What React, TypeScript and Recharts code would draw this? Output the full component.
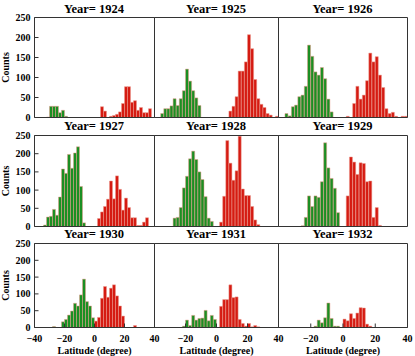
import React from 'react';
import { BarChart, Bar, XAxis, YAxis } from 'recharts';

// bin centres (2-degree bins from -40 to 40)
const latitudeBins = [
  -39, -37, -35, -33, -31, -29, -27, -25, -23, -21, -19, -17, -15, -13, -11, -9, -7, -5, -3, -1,
  1, 3, 5, 7, 9, 11, 13, 15, 17, 19, 21, 23, 25, 27, 29, 31, 33, 35, 37, 39,
];

const years = [1924, 1925, 1926, 1927, 1928, 1929, 1930, 1931, 1932];

// southern hemisphere counts (bins -40..-2) and northern (bins 0..38)
const south1924 = [0,0,0,0,1,28,28,28,12,18,3,0,0,0,0,0,0,0,0,0];
const north1924 = [0,0,27,16,0,3,5,8,14,35,77,77,38,42,18,25,12,12,22,0];
const south1925 = [0,0,10,22,22,29,47,30,47,67,121,91,67,49,30,0,0,0,0,0];
const north1925 = [0,0,0,0,16,28,52,116,116,139,207,172,95,47,33,25,10,6,0,3];
const south1926 = [0,0,10,4,27,31,52,56,78,181,153,114,106,125,97,46,14,0,0,0];
const north1926 = [0,3,0,35,78,46,56,92,161,139,152,106,75,22,10,13,3,0,3,3];
const south1927 = [0,0,0,4,26,28,47,31,81,158,146,198,160,202,219,110,10,0,0,0];
const north1927 = [0,22,40,55,75,125,76,139,102,45,78,52,24,24,3,3,12,24,0,0];
const south1928 = [0,0,0,0,0,0,23,25,52,106,138,186,207,184,150,129,82,23,14,0];
const north1928 = [0,12,83,236,174,127,153,248,103,85,85,55,18,5,0,0,0,0,0,0];
const south1929 = [0,0,0,0,0,0,0,2,25,84,55,84,80,123,230,161,132,105,38,0];
const north1929 = [0,84,191,177,143,175,173,123,125,25,52,3,0,0,0,0,0,0,0,0];
const south1930 = [0,0,0,0,0,0,3,0,0,17,24,37,49,72,64,97,144,77,64,29];
const north1930 = [19,30,87,122,90,117,127,94,64,34,0,0,0,6,0,0,0,0,0,0];
const south1931 = [0,0,0,0,0,0,0,0,0,4,22,6,36,22,27,28,51,20,36,24];
const north1931 = [0,63,83,83,127,89,91,24,12,4,12,2,6,2,0,0,0,0,0,0];
const south1932 = [0,0,0,0,0,0,0,0,0,0,0,4,22,14,29,73,27,4,4,0];
const north1932 = [25,20,41,27,43,59,58,10,4,0,0,0,0,0,0,0,0,0,0,0];

const SOUTH = [south1924, south1925, south1926, south1927, south1928, south1929, south1930, south1931, south1932];
const NORTH = [north1924, north1925, north1926, north1927, north1928, north1929, north1930, north1931, north1932];

const X_TICKS = [-40, -20, 0, 20, 40];
const Y_TICKS = [0, 50, 100, 150, 200, 250];

// layout (page pixels)
const COL_LEFT = [34, 154, 278];
const COL_RIGHT = [154, 278, 407];
const ROW_TOP = [17, 135, 243];
const ROW_BOTTOM = [117, 226, 327];
const TITLE_Y = [9, 126, 234];
const PAGE_W = 415;
const PAGE_H = 356;

const FONT = '"Liberation Serif", "Times New Roman", serif';
const GREEN = '#1b8f23';
const RED = '#d51b12';
const OUTLINE = '#eb9a8f';
const AXIS = '#333';

const tickStyle = { fill: '#000', fontSize: 10, fontWeight: 'bold', fontFamily: FONT };

function Panel({ index }: { index: number }) {
  const r = Math.floor(index / 3);
  const c = index % 3;
  const pl = COL_LEFT[c];
  const pr = COL_RIGHT[c];
  const pt = ROW_TOP[r];
  const pb = ROW_BOTTOM[r];
  const showY = c === 0;
  const showX = r === 2;
  const left = showY ? 0 : pl - 2;
  const top = pt - 2;
  const yW = showY ? pl - left : 1;
  const mLeft = showY ? 0 : 1;
  const xH = showX ? PAGE_H - pb : 1;
  const mBottom = showX ? 0 : 1;
  const width = pr - left + 2;
  const height = showX ? PAGE_H - top : pb - top + 2;

  const data = latitudeBins.map((lat, k) => ({
    lat,
    south: k < 20 ? SOUTH[index][k] : 0,
    north: k >= 20 ? NORTH[index][k - 20] : 0,
  }));

  const fmtX = (v: number) => {
    if (c > 0 && v === -40) return '';
    return v < 0 ? '\u2212' + Math.abs(v) : String(v);
  };

  return (
    <div style={{ position: 'absolute', left, top, width, height, overflow: 'visible' }}>
      <BarChart
        width={width}
        height={height}
        data={data}
        margin={{ top: 1, right: 1, bottom: mBottom, left: mLeft }}
        barCategoryGap={0}
        barGap={0}
        style={{ overflow: 'visible' }}
      >
        <XAxis
          xAxisId="top"
          orientation="top"
          type="number"
          domain={[-40, 40]}
          ticks={X_TICKS}
          height={1}
          tick={false}
          tickSize={-4}
          axisLine={{ stroke: AXIS }}
          tickLine={{ stroke: AXIS }}
        />
        <XAxis
          dataKey="lat"
          type="number"
          domain={[-40, 40]}
          ticks={X_TICKS}
          interval={0}
          height={xH}
          tick={showX ? tickStyle : false}
          tickSize={-4}
          tickMargin={11}
          tickFormatter={fmtX}
          axisLine={{ stroke: AXIS }}
          tickLine={{ stroke: AXIS }}
          label={
            showX
              ? {
                  value: 'Latitude (degree)',
                  position: 'insideBottom',
                  offset: 3,
                  fill: '#000',
                  fontSize: 10,
                  fontWeight: 'bold',
                  fontFamily: FONT,
                }
              : undefined
          }
        />
        <YAxis
          type="number"
          domain={[0, 250]}
          ticks={Y_TICKS}
          interval={0}
          width={yW}
          tick={showY ? tickStyle : false}
          tickSize={-4}
          tickMargin={8}
          axisLine={{ stroke: AXIS }}
          tickLine={{ stroke: AXIS }}
          label={
            showY
              ? {
                  value: 'Counts',
                  angle: -90,
                  position: 'insideLeft',
                  offset: 5,
                  fill: '#000',
                  fontSize: 10,
                  fontWeight: 'bold',
                  fontFamily: FONT,
                  style: { textAnchor: 'middle' },
                }
              : undefined
          }
        />
        <YAxis
          yAxisId="right"
          orientation="right"
          type="number"
          domain={[0, 250]}
          ticks={Y_TICKS}
          width={1}
          tick={false}
          tickSize={-4}
          axisLine={{ stroke: AXIS }}
          tickLine={{ stroke: AXIS }}
        />
        <Bar dataKey="south" stackId="h" fill={GREEN} stroke={OUTLINE} strokeWidth={0.5} isAnimationActive={false} />
        <Bar dataKey="north" stackId="h" fill={RED} stroke={OUTLINE} strokeWidth={0.5} isAnimationActive={false} />
      </BarChart>
    </div>
  );
}

export default function App() {
  return (
    <div
      style={{
        position: 'absolute',
        left: 0,
        top: 0,
        width: PAGE_W,
        height: PAGE_H,
        background: '#fff',
        overflow: 'hidden',
      }}
    >
      <style>{'.recharts-wrapper, .recharts-surface { overflow: visible !important; }'}</style>
      <div style={{ position: 'absolute', left: 0, top: 0, width: PAGE_W, height: PAGE_H, transform: 'translate(0.5px, 0.5px)' }}>
        {years.map((y, i) => (
          <Panel key={y} index={i} />
        ))}
      </div>
      {years.map((y, i) => {
        const r = Math.floor(i / 3);
        const c = i % 3;
        const cx = (COL_LEFT[c] + COL_RIGHT[c]) / 2;
        return (
          <div
            key={'t' + y}
            style={{
              position: 'absolute',
              left: cx - 60,
              width: 120,
              top: TITLE_Y[r] - 7,
              textAlign: 'center',
              fontFamily: FONT,
              fontWeight: 'bold',
              fontSize: 12.5,
              lineHeight: '14px',
              color: '#000',
              whiteSpace: 'nowrap',
            }}
          >
            {'Year= ' + y}
          </div>
        );
      })}
    </div>
  );
}
